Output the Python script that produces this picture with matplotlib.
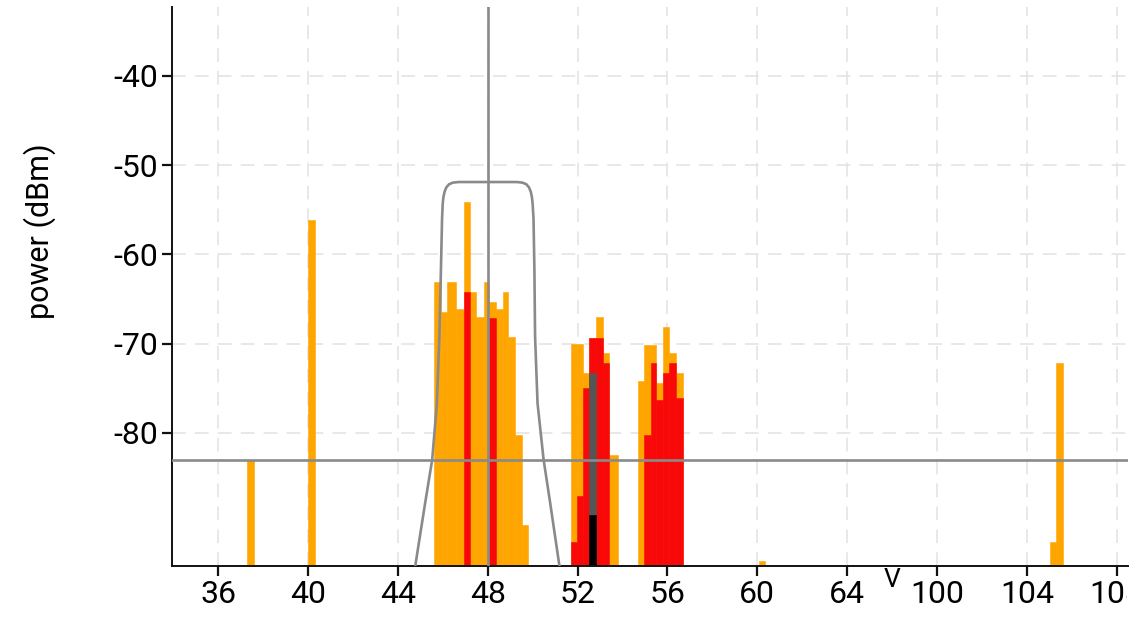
import matplotlib
matplotlib.use("Agg")
import matplotlib.pyplot as plt
import numpy as np
from matplotlib.transforms import Bbox, TransformedBbox

plt.rcParams['font.family'] = ['Roboto', 'DejaVu Sans']
plt.rcParams['axes.unicode_minus'] = False

# spectrum bins: start freq, stop freq, level (dBm)
orange_lo = [37.28, 39.99, 45.60, 45.91, 46.21, 46.61, 46.95, 47.20, 47.50, 47.84, 48.07, 48.39, 48.68,
             48.90, 49.20, 49.51, 51.71, 51.96, 52.24, 52.53, 52.80, 53.12, 53.42, 54.68, 54.98, 55.28,
             55.50, 55.79, 56.09, 56.39, 60.06, 105.01, 105.31]
orange_hi = [37.60, 40.33, 45.91, 46.21, 46.61, 46.95, 47.20, 47.50, 47.84, 48.07, 48.39, 48.68, 48.90,
             49.20, 49.51, 49.78, 51.96, 52.24, 52.53, 52.80, 53.12, 53.42, 53.79, 54.98, 55.28, 55.50,
             55.79, 56.09, 56.39, 56.68, 60.36, 105.31, 105.61]
orange_db = [-83.0, -56.1, -63.1, -66.5, -63.1, -66.1, -54.1, -64.2, -67.0, -63.1, -65.3, -66.1, -64.2,
             -69.2, -80.2, -90.3, -70.0, -70.0, -73.3, -69.4, -67.0, -71.1, -82.5, -74.2, -70.1, -70.1,
             -74.4, -68.1, -71.1, -73.3, -94.3, -92.2, -72.2]

red_lo = [46.95, 48.07, 51.71, 51.96, 52.24, 52.53, 52.80, 53.12, 54.98, 55.28, 55.50, 55.79, 56.09, 56.39]
red_hi = [47.20, 48.39, 51.96, 52.24, 52.53, 52.80, 53.12, 53.42, 55.28, 55.50, 55.79, 56.09, 56.39, 56.68]
red_db = [-64.2, -67.1, -92.2, -87.1, -75.0, -69.4, -69.4, -72.2, -80.2, -72.2, -76.3, -73.3, -72.2, -76.1]

grey_lo = [52.53]
grey_hi = [52.80]
grey_db = [-73.3]

black_lo = [52.53]
black_hi = [52.80]
black_db = [-89.2]

# filter mask outline
filter_f = [44.77, 45.22, 45.53, 45.74, 45.85, 45.92, 45.97, 46.0, 46.03, 46.08, 46.16, 46.28, 46.45, 46.7,
            49.3, 49.55, 49.72, 49.84, 49.92, 49.97, 50.0, 50.04, 50.08, 50.11, 50.22, 50.49, 50.78, 51.2]
filter_db = [-95.0, -87.8, -83.0, -76.7, -69.2, -61.7, -56.0, -54.3, -53.6, -53.0, -52.5, -52.15, -51.97, -51.9,
             -51.9, -51.97, -52.15, -52.5, -53.0, -53.6, -54.3, -56.0, -61.7, -69.2, -76.7, -83.0, -87.8, -95.0]

cursor_f = 48.0
cursor_db = -83.0

xticks_f = [36, 40, 44, 48, 52, 56, 60, 64, 100, 104, 108]
yticks = [-40, -50, -60, -70, -80]

Y_BOTTOM = -94.9
Y_TOP = -32.3
BREAK_LO, BREAK_HI = 66, 98


def axis_x(f):
    f = np.asarray(f, dtype=float)
    return np.where(f > BREAK_LO, f - (BREAK_HI - BREAK_LO), f)


fig = plt.figure(figsize=(11.48, 6.28), dpi=100)
ax = fig.add_axes([172 / 1148, 62 / 628, 956 / 1148, 559 / 628])


def draw_bars(lo, hi, db, color):
    lo = np.array(lo)
    hi = np.array(hi)
    db = np.array(db)
    ax.bar(axis_x(lo), db - Y_BOTTOM + 2, width=hi - lo, bottom=Y_BOTTOM - 2, align='edge',
           color=color, edgecolor=color, linewidth=0.4, zorder=2)


draw_bars(orange_lo, orange_hi, orange_db, '#ffa500')
draw_bars(red_lo, red_hi, red_db, '#f80808')
draw_bars(grey_lo, grey_hi, grey_db, '#555555')
draw_bars(black_lo, black_hi, black_db, '#000000')

ax.plot(axis_x(filter_f), filter_db, color='#8a8a8a', lw=1.9, zorder=4, solid_joinstyle='round')
ax.axvline(axis_x(cursor_f), color='#8a8a8a', lw=1.9, zorder=4)
ax.axhline(cursor_db, color='#8a8a8a', lw=1.9, zorder=4)

ax.set_xlim(33.95, 76.5)
ax.set_ylim(Y_BOTTOM, Y_TOP)

ax.set_xticks(axis_x(xticks_f))
ax.set_xticklabels([str(v) for v in xticks_f])
ax.set_yticks(yticks)
ax.set_yticklabels([str(v) for v in yticks])

ax.grid(True, color='#e2e2e2', lw=1.1, linestyle=(0, (9, 6)), zorder=0)
ax.set_axisbelow(True)

for s in ['top', 'right']:
    ax.spines[s].set_visible(False)
for s in ['left', 'bottom']:
    ax.spines[s].set_linewidth(1.4)
    ax.spines[s].set_color('#111111')

ax.tick_params(axis='both', length=7, width=1.6, color='#111111', labelsize=23, pad=3)

# axis break marker
ax.text(BREAK_LO, Y_BOTTOM - 0.2, 'V', ha='center', va='top', fontsize=19)

fig.text(40 / 1148, 1 - 231 / 628, 'power (dBm)', rotation=90, ha='center', va='center', fontsize=22)

# last tick label is cut at the plot edge
clip = TransformedBbox(Bbox.from_extents(0, 0, 1127 / 1148, 1), fig.transFigure)
last = ax.xaxis.get_major_ticks()[-1].label1
last.set_clip_on(True)
last.set_clip_box(clip)

fig.savefig('out.png', dpi=100)
